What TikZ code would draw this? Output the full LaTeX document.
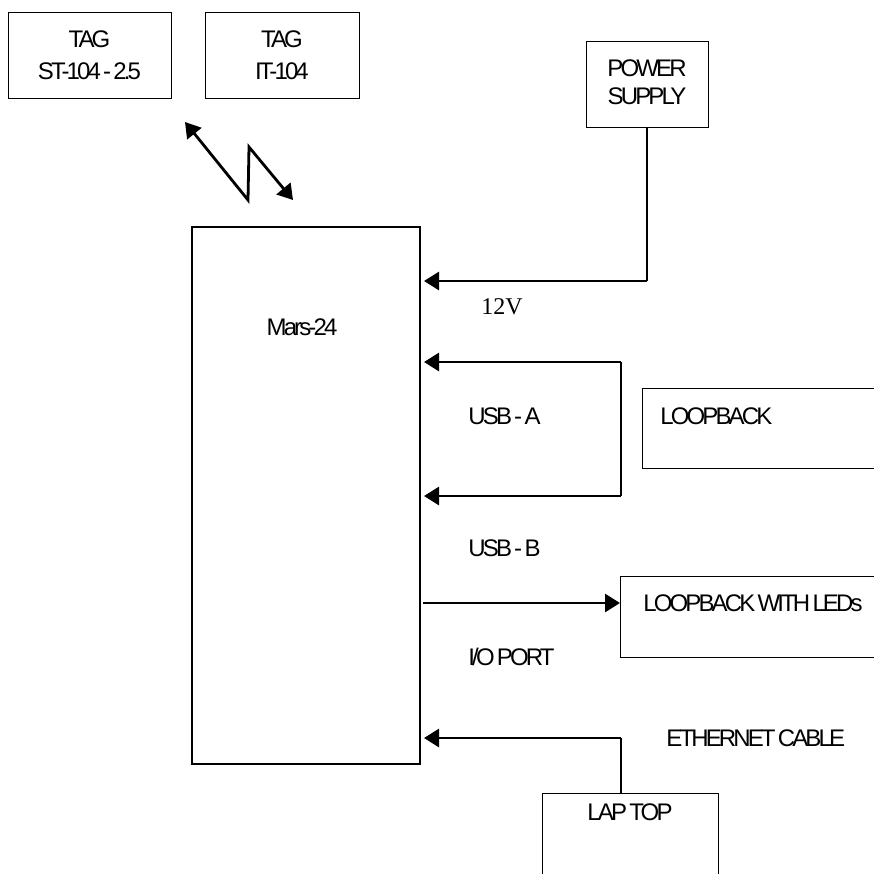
\documentclass[tikz,border=0pt]{standalone}
\usepackage{fontspec}
\setmainfont{Liberation Sans}[LetterSpace=-12,WordSpace=0.6]
\newfontfamily\serifv{Liberation Serif}
\usetikzlibrary{arrows.meta}
\begin{document}
\begin{tikzpicture}[x=0.5pt,y=-0.5pt,
  box/.style={draw,line width=0.5pt,inner sep=0pt},
  txt/.style={inner sep=0pt,font=\fontsize{12}{14}\selectfont},
  thick line/.style={line width=1.4pt},
  thin line/.style={line width=0.55pt},
  tip/.style={-{Triangle[length=7.5pt,width=9pt]}},
  tipboth/.style={{Triangle[length=7.5pt,width=9pt]}-{Triangle[length=7.5pt,width=9pt]}}]
\useasboundingbox (0,0) rectangle (874,874);
\clip (0,0) rectangle (874,874);
% boxes
\node[box,minimum width=81.5pt,minimum height=43pt] (tag1) at (89.5,55) {};
\node[box,minimum width=77pt,minimum height=43pt] (tag2) at (282,55) {};
\node[box,minimum width=61pt,minimum height=43pt] (power) at (647,84) {};
\node[box,line width=0.85pt,minimum width=114pt,minimum height=268.5pt] (mars) at (306,495.5) {};
\node[box,minimum width=129pt,minimum height=40pt] (loop) at (771,428) {};
\node[box,minimum width=140pt,minimum height=40.5pt] (leds) at (760,616.5) {};
\node[box,minimum width=88pt,minimum height=53.5pt] (laptop) at (630,846.5) {};
% texts
\node[txt,align=center] (tag1t) at (89.5,55) {TAG\\[2pt]ST-104 - 2.5};
\node[txt,align=center] (tag2t) at (282,55) {TAG\\[2pt]IT-104};
\node[txt,align=center] (powert) at (647,82) {POWER\\SUPPLY};
\node[txt] (marst) at (302,327) {Mars-24};
\node[txt,font=\serifv\fontsize{12}{14}\selectfont] (v12) at (502,307) {12V};
\node[txt,anchor=west] (usba) at (468,416) {USB - A};
\node[txt,anchor=west] (loopt) at (660,416) {LOOPBACK};
\node[txt,anchor=west] (usbb) at (468,548) {USB - B};
\node[txt,anchor=west] (ledst) at (643,603) {LOOPBACK WITH LEDs};
\node[txt,anchor=west] (io) at (468,657) {I/O PORT};
\node[txt,anchor=west] (eth) at (666,738) {ETHERNET CABLE};
\node[txt] (laptopt) at (630,812) {LAP TOP};
% coordinates
\coordinate (p12) at (424,281);
\coordinate (pc) at (647,281);
\coordinate (ua1) at (424,362);
\coordinate (ur1) at (621,362);
\coordinate (ua2) at (424,496);
\coordinate (ur2) at (621,496);
\coordinate (ls) at (423,603);
\coordinate (le) at (620,603);
\coordinate (ea) at (424,738);
\coordinate (ec) at (621,738);
\coordinate (lt) at (621,793);
\coordinate (z1) at (185,122);
\coordinate (z2) at (248,200);
\coordinate (z3) at (249,147);
\coordinate (z4) at (293,200);
% connectors
\draw[thin line] (power.south) -- (pc);
\draw[thick line,tip] (pc) -- (p12);
\draw[thick line,tip] (ur1) -- (ua1);
\draw[thick line,tip] (ur2) -- (ua2);
\draw[thin line] (ur1) -- (ur2);
\draw[thick line,tip] (ls) -- (le);
\draw[thin line] (lt) -- (ec);
\draw[thick line,tip] (ec) -- (ea);
\draw[line width=1.4pt,tipboth,line join=miter] (z1) -- (z2) -- (z3) -- (z4);
\end{tikzpicture}
\end{document}
